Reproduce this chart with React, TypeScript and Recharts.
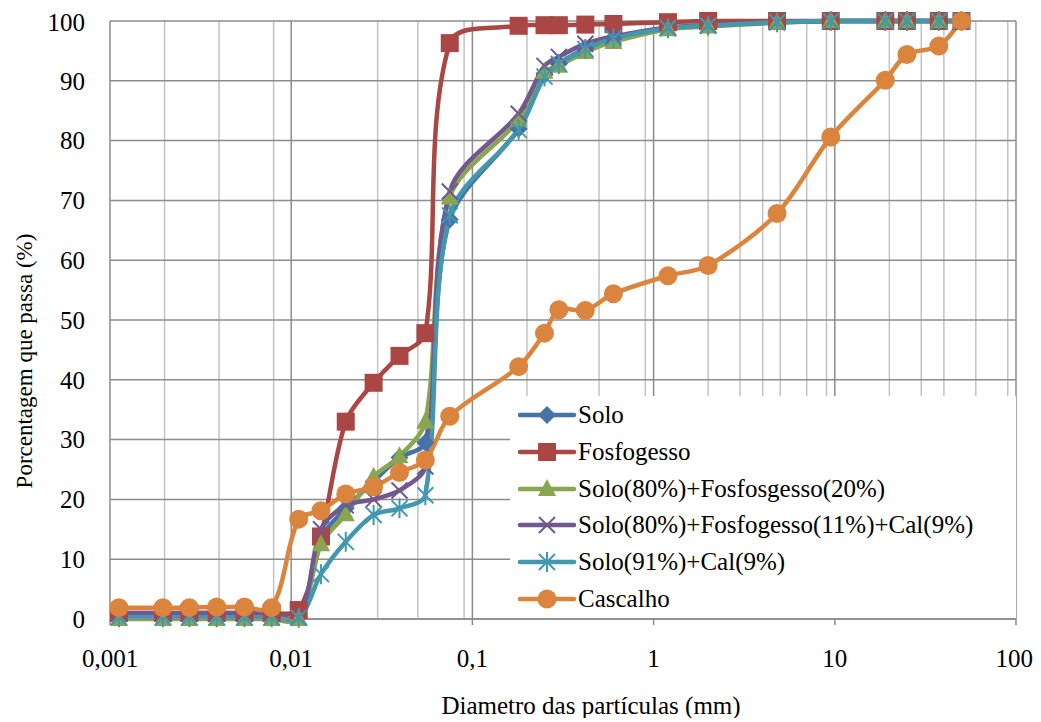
import { LineChart, Line, XAxis, YAxis, CartesianGrid } from "recharts";

// particle diameters (mm), shared by every series
const diameters = [
  0.00112, 0.00196, 0.00274, 0.00388, 0.00552, 0.0078, 0.011, 0.0146, 0.02,
  0.0285, 0.0396, 0.055, 0.075, 0.18, 0.25, 0.3, 0.42, 0.6, 1.2, 2.0, 4.8, 9.5,
  19, 25, 37.5, 50,
];

// % passing for each material
const solo = [
  0.5, 0.5, 0.5, 0.5, 0.5, 0.5, 0.3, 13.5, 18.5, 23, 27, 29.5, 66.8, 82, 91,
  92.9, 95.4, 97.1, 98.8, 99.2, 99.8, 100, 100, 100, 100, 100,
];
const fosfogesso = [
  1, 1, 1, 1, 1, 1, 1.5, 13.8, 33, 39.5, 44, 47.8, 96.3, 99.2, 99.3, 99.3,
  99.4, 99.5, 99.8, 100, 100, 100, 100, 100, 100, 100,
];
const soloFosfo = [
  0, 0, 0, 0, 0, 0, 0, 12.5, 17.5, 23.8, 27.2, 33, 70.5, 83.5, 91.5, 92.5,
  94.8, 96.5, 98.6, 99.1, 99.7, 100, 100, 100, 100, 100,
];
const soloFosfoCal = [
  1, 1, 1, 1, 1, 1, 0.3, 15, 19, 20, 21.5, 25.5, 71.5, 84.5, 92.5, 94, 96.2,
  97.4, 98.9, 99.3, 99.8, 100, 100, 100, 100, 100,
];
const soloCal = [
  0.3, 0.3, 0.3, 0.3, 0.3, 0.3, 0.2, 7.5, 12.9, 17.4, 18.5, 20.7, 67.5, 81.8,
  90.7, 92.8, 95.3, 97.1, 98.8, 99.2, 99.8, 100, 100, 100, 100, 100,
];
const cascalho = [
  1.9, 1.9, 1.9, 2.0, 2.0, 1.9, 16.7, 18.1, 20.9, 22.1, 24.5, 26.6, 33.9, 42.2,
  47.8, 51.7, 51.6, 54.4, 57.4, 59.1, 67.8, 80.6, 90.1, 94.4, 95.8, 100,
];

const xTicks = [0.001, 0.01, 0.1, 1, 10, 100];
const yTicks = [0, 10, 20, 30, 40, 50, 60, 70, 80, 90, 100];

const series = [
  { key: "solo", name: "Solo", values: solo, color: "#4572A7", shape: "diamond" },
  { key: "fosfo", name: "Fosfogesso", values: fosfogesso, color: "#AA4643", shape: "square" },
  { key: "soloFosfo", name: "Solo(80%)+Fosfosgesso(20%)", values: soloFosfo, color: "#89A54E", shape: "triangle" },
  { key: "soloFosfoCal", name: "Solo(80%)+Fosfogesso(11%)+Cal(9%)", values: soloFosfoCal, color: "#71588F", shape: "x" },
  { key: "soloCal", name: "Solo(91%)+Cal(9%)", values: soloCal, color: "#4198AF", shape: "star" },
  { key: "cascalho", name: "Cascalho", values: cascalho, color: "#DB843D", shape: "circle" },
];

const data = diameters.map((d, i) => {
  const row: Record<string, number> = { d };
  series.forEach((s) => (row[s.key] = s.values[i]));
  return row;
});

// minor / major vertical grid positions for the log axis
const minorX: number[] = [];
for (let e = -3; e < 2; e++) {
  for (let m = 2; m <= 9; m++) minorX.push(m * Math.pow(10, e));
}
const majorX = [0.01, 0.1, 1, 10, 100];

const SERIF = "'Liberation Serif', 'Times New Roman', Tinos, 'DejaVu Serif', 'Noto Serif', serif";

// smoothed line like Excel's: tangents follow neighbours, length follows the segment
function excelCurve(context: any) {
  let pts: number[][] = [];
  const s = 0.3;
  return {
    areaStart() {},
    areaEnd() {},
    lineStart() {
      pts = [];
    },
    point(x: number, y: number) {
      pts.push([+x, +y]);
    },
    lineEnd() {
      if (!pts.length) return;
      context.moveTo(pts[0][0], pts[0][1]);
      for (let i = 0; i < pts.length - 1; i++) {
        const p0 = pts[i - 1] || pts[i];
        const p1 = pts[i];
        const p2 = pts[i + 1];
        const p3 = pts[i + 2] || p2;
        const len = Math.hypot(p2[0] - p1[0], p2[1] - p1[1]);
        const t1x = p2[0] - p0[0];
        const t1y = p2[1] - p0[1];
        const n1 = Math.hypot(t1x, t1y) || 1;
        const t2x = p3[0] - p1[0];
        const t2y = p3[1] - p1[1];
        const n2 = Math.hypot(t2x, t2y) || 1;
        context.bezierCurveTo(
          p1[0] + (t1x / n1) * len * s,
          p1[1] + (t1y / n1) * len * s,
          p2[0] - (t2x / n2) * len * s,
          p2[1] - (t2y / n2) * len * s,
          p2[0],
          p2[1]
        );
      }
    },
  };
}

function Marker({ shape, color, cx, cy }: { shape: string; color: string; cx: number; cy: number }) {
  switch (shape) {
    case "diamond":
      return (
        <polygon
          points={`${cx},${cy - 9} ${cx + 9},${cy} ${cx},${cy + 9} ${cx - 9},${cy}`}
          fill={color}
        />
      );
    case "square":
      return <rect x={cx - 9} y={cy - 9} width={18} height={18} fill={color} />;
    case "triangle":
      return (
        <polygon
          points={`${cx},${cy - 10} ${cx + 9},${cy + 7} ${cx - 9},${cy + 7}`}
          fill={color}
        />
      );
    case "x":
      return (
        <path
          d={`M${cx - 8},${cy - 8}L${cx + 8},${cy + 8}M${cx - 8},${cy + 8}L${cx + 8},${cy - 8}`}
          stroke={color}
          strokeWidth={2}
        />
      );
    case "star":
      return (
        <path
          d={`M${cx - 8},${cy - 8}L${cx + 8},${cy + 8}M${cx - 8},${cy + 8}L${cx + 8},${cy - 8}M${cx},${cy - 10}L${cx},${cy + 10}`}
          stroke={color}
          strokeWidth={2}
        />
      );
    default:
      return <circle cx={cx} cy={cy} r={9.5} fill={color} />;
  }
}

const makeDot = (shape: string, color: string) => (props: any) => {
  const { cx, cy, index } = props;
  if (cx == null || cy == null) return <g key={`${shape}-${index}`} />;
  return <Marker key={`${shape}-${index}`} shape={shape} color={color} cx={cx} cy={cy} />;
};

const fmt = (v: number) => String(v).replace(".", ",");

export default function App() {
  return (
    <div
      style={{
        position: "relative",
        width: 1025,
        height: 710,
        fontFamily: SERIF,
      }}
    >
      <LineChart
        width={1025}
        height={710}
        data={data}
        margin={{ top: 13, right: 17, left: 42, bottom: 39 }}
        style={{ fontFamily: SERIF }}
      >
        <CartesianGrid
          horizontal={false}
          verticalValues={minorX}
          stroke="#C3C3C3"
          strokeWidth={1.5}
        />
        <CartesianGrid
          verticalValues={majorX}
          horizontalValues={yTicks}
          stroke="#8C8C8C"
          strokeWidth={1.5}
        />
        <XAxis
          dataKey="d"
          type="number"
          scale="log"
          domain={[0.001, 100]}
          allowDataOverflow
          ticks={xTicks}
          tickFormatter={fmt}
          height={60}
          tickSize={6}
          tickMargin={24}
          axisLine={{ stroke: "#8C8C8C", strokeWidth: 1.5 }}
          tickLine={{ stroke: "#8C8C8C", strokeWidth: 1.5 }}
          tick={{ fontSize: 25, fill: "#000", fontFamily: SERIF }}
          label={{
            value: "Diametro das partículas (mm)",
            position: "center",
            dx: 28,
            dy: 56,
            style: { fontSize: 25, fill: "#000", fontFamily: SERIF },
          }}
        />
        <YAxis
          type="number"
          domain={[0, 100]}
          ticks={yTicks}
          width={60}
          tickLine={false}
          tickSize={6}
          tickMargin={19}
          axisLine={{ stroke: "#8C8C8C", strokeWidth: 1.5 }}
          tick={{ fontSize: 25, fill: "#000", fontFamily: SERIF }}
          label={{
            value: "Porcentagem que passa (%)",
            angle: -90,
            position: "center",
            dx: -56,
            dy: 41,
            style: { fontSize: 23, fill: "#000", fontFamily: SERIF, textAnchor: "middle" },
          }}
        />
        {series.map((s) => (
          <Line
            key={s.key}
            dataKey={s.key}
            name={s.name}
            type={excelCurve as any}
            stroke={s.color}
            strokeWidth={4.5}
            dot={makeDot(s.shape, s.color)}
            activeDot={false}
            isAnimationActive={false}
          />
        ))}
      </LineChart>
      <div
        style={{
          position: "absolute",
          left: 502,
          top: 388,
          width: 506,
          height: 222,
          background: "#fff",
          paddingTop: 1,
          boxSizing: "border-box",
        }}
      >
        {series.map((s) => (
          <div
            key={s.key}
            style={{ display: "flex", alignItems: "center", height: 36.7, fontSize: 25, color: "#000" }}
          >
            <svg width={68} height={24} style={{ flex: "none" }}>
              <line x1={10} y1={12} x2={64} y2={12} stroke={s.color} strokeWidth={4.5} strokeLinecap="round" />
              <Marker shape={s.shape} color={s.color} cx={37} cy={12} />
            </svg>
            <span style={{ whiteSpace: "nowrap" }}>{s.name}</span>
          </div>
        ))}
      </div>
    </div>
  );
}
